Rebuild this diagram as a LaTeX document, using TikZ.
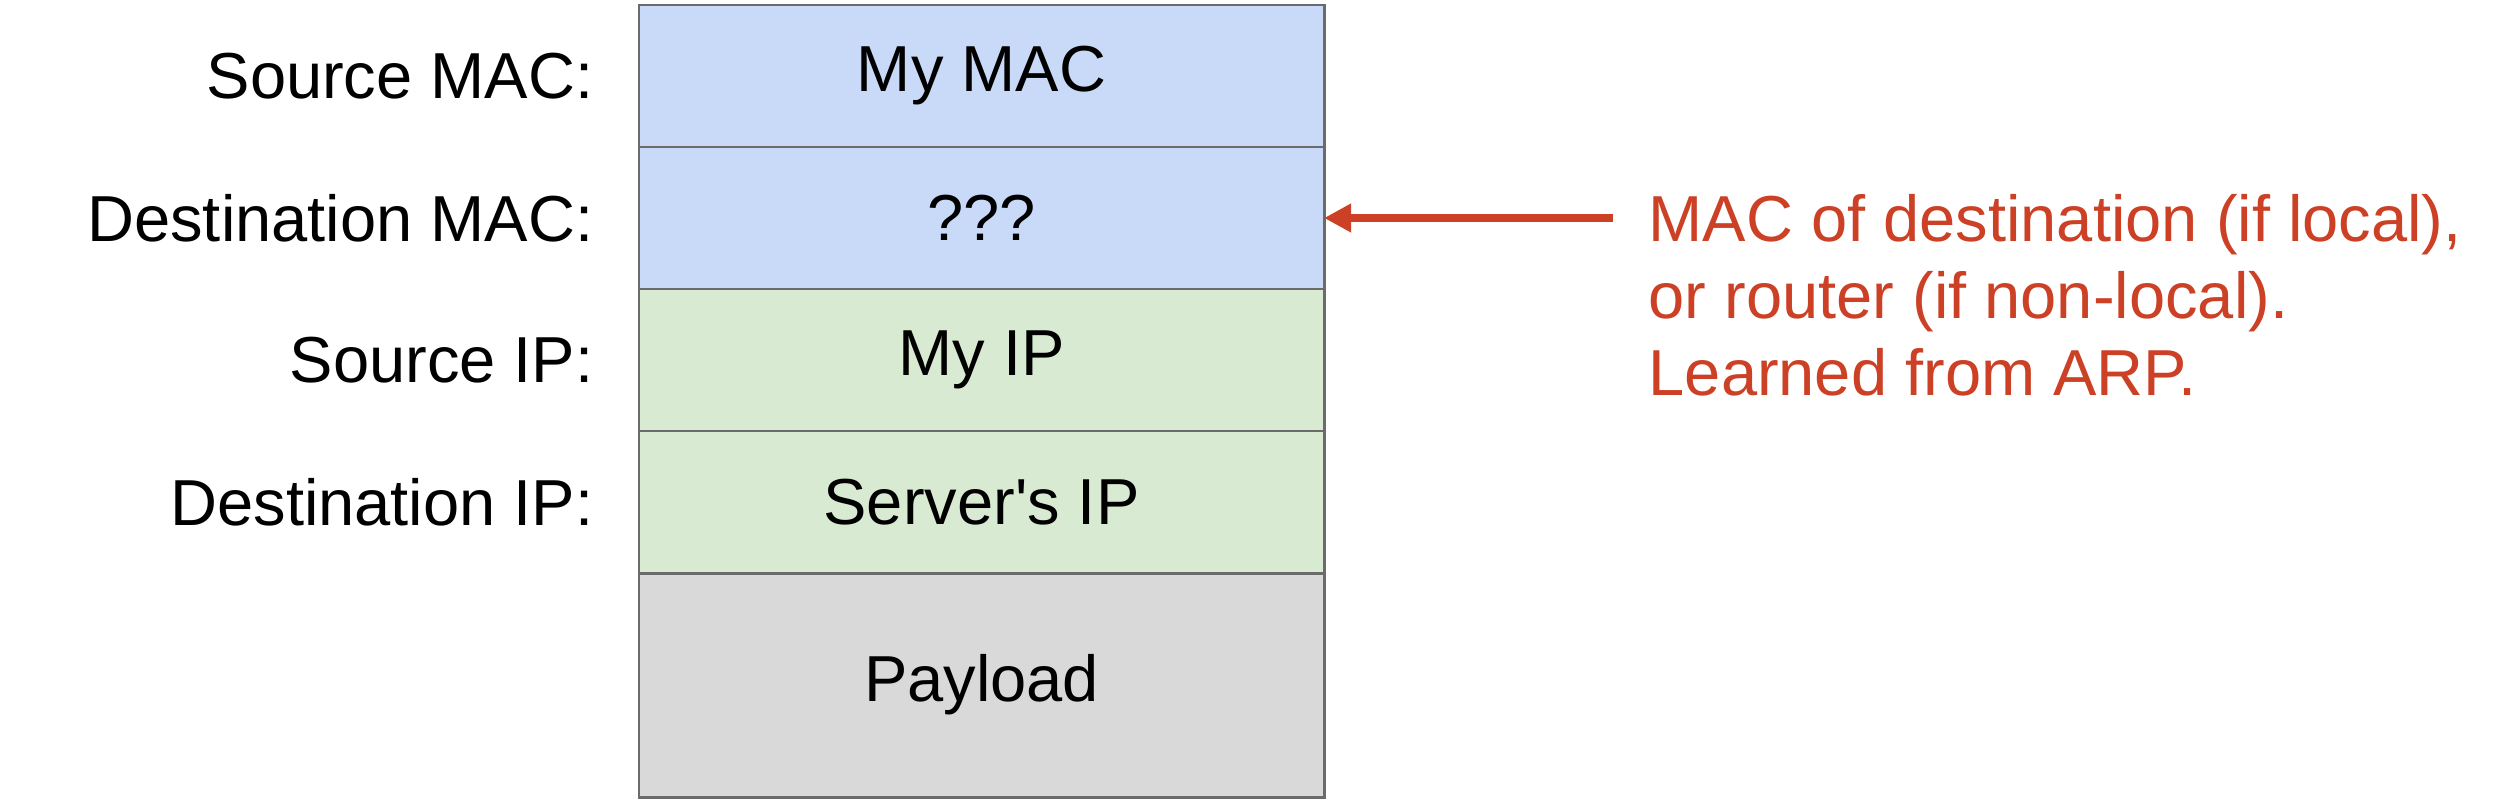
\documentclass[tikz,border=0pt]{standalone}
\usepackage{fontspec}
\setmainfont{Liberation Sans}
\usetikzlibrary{positioning, arrows.meta}
\definecolor{macblue}{HTML}{C9DAF8}
\definecolor{ipgreen}{HTML}{D9EAD3}
\definecolor{datagray}{HTML}{D9D9D9}
\definecolor{edgegray}{HTML}{6B6B6B}
\definecolor{notered}{HTML}{CC4125}
\tikzstyle{cell} = [rectangle, draw=edgegray, line width=0.85pt, outer sep=0pt, minimum width=6.85cm, minimum height=1.42cm, text centered]
\tikzstyle{maccell} = [cell, fill=macblue]
\tikzstyle{ipcell} = [cell, fill=ipgreen]
\tikzstyle{datacell} = [cell, fill=datagray, minimum height=2.24cm]
\tikzstyle{fieldlabel} = [inner sep=0pt, anchor=east]
\tikzstyle{note} = [inner sep=0pt, align=left, text=notered, font=\fontsize{18.5pt}{21.9pt}\selectfont]
\tikzstyle{line} = [draw=notered, line width=2pt, -{Triangle[length=2.7mm, width=2.7mm]}]

\begin{document}
\begin{tikzpicture}[font=\fontsize{18.5pt}{21.9pt}\selectfont]
    \useasboundingbox (0,0) rectangle (25.16,-8.02);

    \node[maccell] (srcmac) at (9.815,-0.76) {My MAC};
    \node[maccell, below=0pt of srcmac] (dstmac) {???};
    \node[ipcell, below=0pt of dstmac] (srcip) {My IP};
    \node[ipcell, below=0pt of srcip] (dstip) {Server\textquotesingle s IP};
    \node[datacell, below=0pt of dstip] (payload) {Payload};

    \node[fieldlabel, left=0.45cm of srcmac] (lsrcmac) {Source MAC:};
    \node[fieldlabel, left=0.45cm of dstmac] (ldstmac) {Destination MAC:};
    \node[fieldlabel, left=0.45cm of srcip] (lsrcip) {Source IP:};
    \node[fieldlabel, left=0.45cm of dstip] (ldstip) {Destination IP:};

    \coordinate[right=2.89cm of dstmac.east] (tail);
    \node[note, anchor=base west] (arpnote) at ([xshift=3.5mm, yshift=-17.7mm]tail)
        {MAC of destination (if local),\\or router (if non-local).\\Learned from ARP.};

    \path[line] (tail) -- (dstmac);
\end{tikzpicture}
\end{document}
